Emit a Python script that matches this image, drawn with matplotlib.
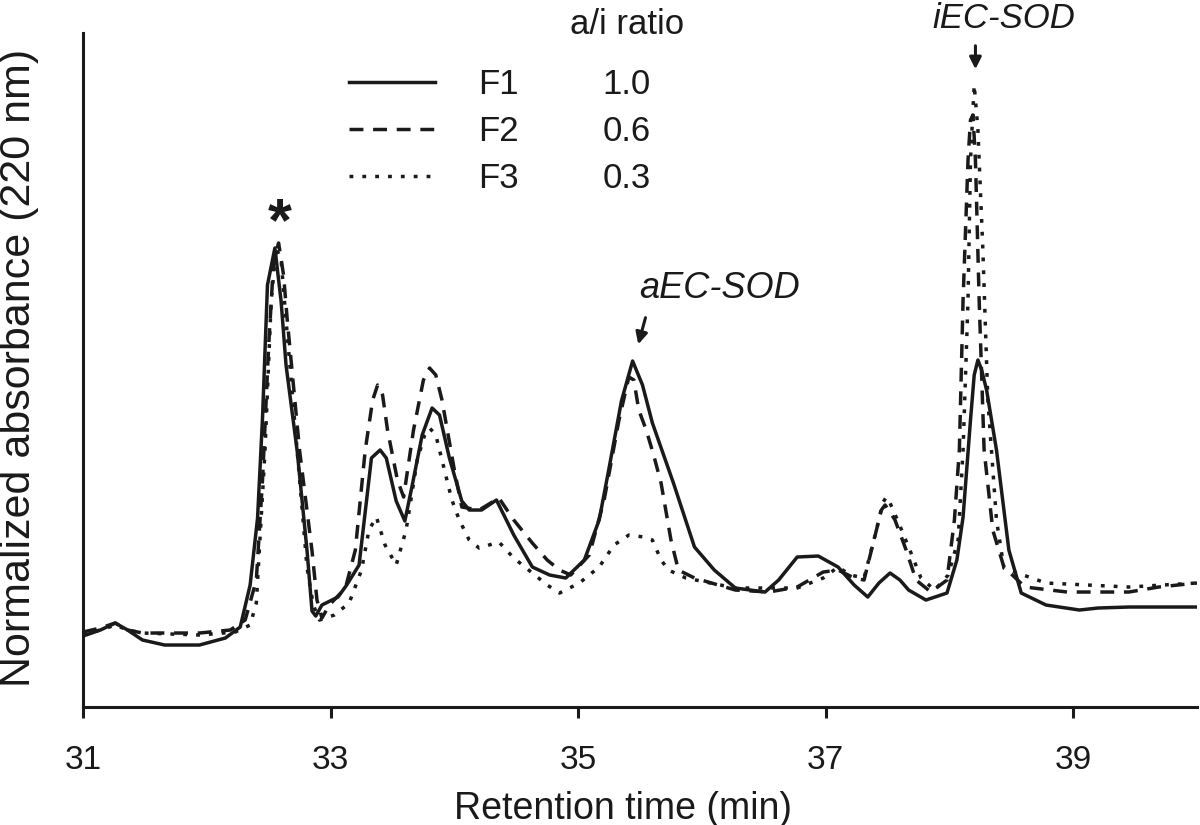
import matplotlib
matplotlib.use("Agg")
import matplotlib.pyplot as plt

plt.rcParams['font.family'] = ['Liberation Sans', 'DejaVu Sans']

# retention time (min) and normalized absorbance (arbitrary units)
t_f1 = [31.00, 31.14, 31.26, 31.36, 31.48, 31.66, 31.94, 32.15, 32.27, 32.35, 32.41, 32.45,
        32.49, 32.55, 32.60, 32.64, 32.73, 32.81, 32.85, 32.88, 32.93, 33.06, 33.13, 33.23,
        33.29, 33.33, 33.40, 33.45, 33.53, 33.60, 33.66, 33.74, 33.82, 33.88, 33.96, 34.06,
        34.12, 34.22, 34.34, 34.48, 34.63, 34.77, 34.90, 35.05, 35.17, 35.25, 35.35, 35.44,
        35.52, 35.60, 35.77, 35.94, 36.10, 36.27, 36.51, 36.62, 36.77, 36.94, 37.10, 37.23,
        37.34, 37.43, 37.52, 37.60, 37.67, 37.81, 37.98, 38.06, 38.11, 38.17, 38.20, 38.23,
        38.26, 38.30, 38.38, 38.48, 38.58, 38.78, 39.05, 39.20, 39.45, 40.00]
a_f1 = [0.69, 0.75, 0.82, 0.75, 0.65, 0.60, 0.60, 0.67, 0.78, 1.20, 1.87, 2.87,
        4.20, 4.57, 4.04, 3.40, 2.54, 1.54, 0.94, 0.89, 1.00, 1.08, 1.20, 1.40,
        2.04, 2.47, 2.55, 2.47, 2.04, 1.84, 2.20, 2.70, 2.97, 2.90, 2.47, 2.04,
        1.95, 1.95, 2.05, 1.70, 1.38, 1.30, 1.27, 1.45, 1.85, 2.37, 3.04, 3.44,
        3.20, 2.82, 2.22, 1.58, 1.35, 1.17, 1.13, 1.25, 1.48, 1.49, 1.38, 1.20,
        1.08, 1.22, 1.32, 1.25, 1.15, 1.05, 1.12, 1.45, 1.88, 2.85, 3.30, 3.45,
        3.35, 3.15, 2.55, 1.55, 1.12, 1.00, 0.95, 0.97, 0.98, 0.98]

t_f2 = [31.00, 31.14, 31.26, 31.36, 31.48, 31.94, 32.19, 32.31, 32.40, 32.45, 32.50, 32.54,
        32.58, 32.62, 32.65, 32.75, 32.85, 32.89, 32.93, 32.99, 33.12, 33.20, 33.28, 33.34,
        33.38, 33.42, 33.46, 33.54, 33.59, 33.67, 33.75, 33.80, 33.85, 33.90, 34.00, 34.06,
        34.20, 34.36, 34.48, 34.63, 34.75, 34.85, 34.94, 35.09, 35.21, 35.33, 35.41, 35.45,
        35.49, 35.55, 35.61, 35.67, 35.75, 35.81, 35.94, 36.27, 36.54, 36.77, 36.98, 37.10,
        37.23, 37.31, 37.39, 37.45, 37.48, 37.51, 37.56, 37.65, 37.73, 37.85, 37.98, 38.04,
        38.08, 38.11, 38.15, 38.17, 38.19, 38.21, 38.24, 38.28, 38.35, 38.44, 38.61, 38.95,
        39.45, 39.69, 40.00]
a_f2 = [0.73, 0.77, 0.82, 0.75, 0.72, 0.72, 0.75, 0.85, 1.25, 2.25, 3.60, 4.45,
        4.62, 4.30, 3.85, 2.54, 1.54, 1.05, 0.87, 1.00, 1.17, 1.55, 2.55, 3.05,
        3.20, 3.10, 2.75, 2.25, 2.08, 2.75, 3.25, 3.37, 3.30, 3.05, 2.35, 1.98,
        1.95, 2.07, 1.85, 1.62, 1.45, 1.35, 1.30, 1.50, 2.05, 2.85, 3.28, 3.25,
        2.95, 2.75, 2.50, 2.22, 1.65, 1.35, 1.27, 1.15, 1.13, 1.18, 1.33, 1.35,
        1.27, 1.25, 1.65, 1.95, 2.00, 1.95, 1.85, 1.55, 1.25, 1.13, 1.25, 1.85,
        2.55, 4.05, 5.45, 5.85, 5.90, 5.45, 4.05, 2.55, 1.75, 1.38, 1.18, 1.13,
        1.13, 1.18, 1.22]

t_f3 = [31.00, 31.14, 31.26, 31.36, 31.48, 31.94, 32.23, 32.35, 32.40, 32.47, 32.52, 32.56,
        32.60, 32.64, 32.73, 32.81, 32.86, 32.91, 33.03, 33.15, 33.25, 33.31, 33.37, 33.44,
        33.53, 33.61, 33.70, 33.76, 33.80, 33.85, 33.90, 33.98, 34.04, 34.12, 34.20, 34.36,
        34.48, 34.63, 34.75, 34.85, 35.01, 35.17, 35.29, 35.41, 35.53, 35.60, 35.67, 35.73,
        35.87, 36.27, 36.77, 36.98, 37.10, 37.20, 37.31, 37.41, 37.46, 37.49, 37.52, 37.58,
        37.68, 37.77, 37.88, 37.99, 38.07, 38.11, 38.15, 38.17, 38.20, 38.23, 38.27, 38.31,
        38.38, 38.44, 38.55, 38.78, 39.45, 40.00]
a_f3 = [0.71, 0.75, 0.80, 0.75, 0.72, 0.70, 0.73, 0.80, 1.02, 2.54, 4.04, 4.57,
        4.45, 3.85, 2.54, 1.37, 1.00, 0.85, 0.90, 1.02, 1.35, 1.75, 1.88, 1.60,
        1.40, 1.75, 2.45, 2.70, 2.77, 2.70, 2.45, 2.05, 1.85, 1.65, 1.57, 1.63,
        1.47, 1.32, 1.20, 1.12, 1.22, 1.38, 1.60, 1.70, 1.68, 1.65, 1.45, 1.35,
        1.27, 1.17, 1.17, 1.27, 1.38, 1.30, 1.27, 1.75, 2.02, 2.08, 2.02, 1.85,
        1.55, 1.27, 1.15, 1.30, 1.65, 2.55, 4.05, 5.45, 6.20, 5.75, 4.55, 3.05,
        1.85, 1.37, 1.32, 1.22, 1.18, 1.22]

fractions = ['F1', 'F2', 'F3']
ratios = ['1.0', '0.6', '0.3']

fig = plt.figure(figsize=(12, 8.25), dpi=100)
ax = fig.add_axes([0.0692, 0.143, 0.9283, 0.817])

ink = '#1a1a1a'
styles = ['-', (0, (4, 2.8)), (0, (1.1, 2.6))]
for t, a, ls in zip([t_f1, t_f2, t_f3], [a_f1, a_f2, a_f3], styles):
    ax.plot(t, a, color=ink, linestyle=ls, linewidth=2.5,
            solid_joinstyle='round', dash_joinstyle='round')

ax.set_xlim(31, 40)
ax.set_ylim(-0.02, 6.72)
ax.set_xticks([31, 33, 35, 37, 39])
ax.set_yticks([])
ax.spines['top'].set_visible(False)
ax.spines['right'].set_visible(False)
for s in ['left', 'bottom']:
    ax.spines[s].set_linewidth(2.2)
    ax.spines[s].set_color(ink)
ax.tick_params(axis='x', direction='out', length=8, width=2.2, pad=19,
               labelsize=24, colors=ink)
ax.set_xlabel('Retention time (min)', fontsize=27, color=ink, va='top')
ax.xaxis.set_label_coords(0.485, -0.124)
fig.text(19 / 1200, 1 - 368 / 825, 'Normalized absorbance (220 nm)', fontsize=31,
         rotation=90, ha='center', va='center', color=ink)

# peak labels
ax.text(32.59, 4.80, '*', fontsize=44, ha='center', va='center', fontweight='bold', color=ink)
ax.text(36.14, 4.17, 'aEC-SOD', fontsize=26, style='italic', ha='center', va='center',
        color=ink)
ax.annotate('', xy=(35.48, 3.58), xytext=(35.55, 3.90),
            arrowprops=dict(arrowstyle='-|>,head_width=0.35,head_length=0.7',
                            color=ink, lw=2.2))
ax.text(38.44, 6.86, 'iEC-SOD', fontsize=25, style='italic', ha='center', va='center',
        clip_on=False, color=ink)
ax.annotate('', xy=(38.21, 6.33), xytext=(38.21, 6.62), annotation_clip=False,
            arrowprops=dict(arrowstyle='-|>,head_width=0.35,head_length=0.7',
                            color=ink, lw=2.2))

# hand-made legend table
tr = ax.transAxes
ax.text(0.488, 1.012, 'a/i ratio', transform=tr, fontsize=25, ha='center', va='center',
        color=ink)
for i, (name, r, ls) in enumerate(zip(fractions, ratios, styles)):
    yy = 0.927 - i * 0.0695
    ax.plot([0.239, 0.316], [yy, yy], transform=tr, color=ink, linestyle=ls, linewidth=2.5)
    ax.text(0.373, yy - 0.004, name, transform=tr, fontsize=25, ha='center', va='center',
            color=ink)
    ax.text(0.488, yy - 0.004, r, transform=tr, fontsize=25, ha='center', va='center',
            color=ink)

fig.savefig('out.png', dpi=100)
